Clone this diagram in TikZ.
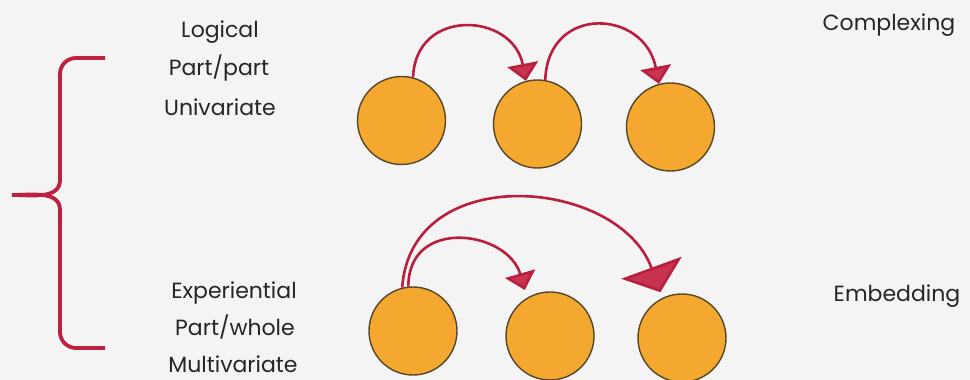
\documentclass[tikz,border=0pt]{standalone}
\usepackage{fontspec}
\setmainfont{Poppins}
\usetikzlibrary{arrows.meta}

\definecolor{circfill}{RGB}{245,168,48}
\definecolor{circedge}{RGB}{85,72,40}
\definecolor{linkred}{RGB}{186,30,62}
\definecolor{headred}{RGB}{200,52,80}
\definecolor{bracered}{RGB}{190,32,64}
\definecolor{paper}{RGB}{244,244,244}

\begin{document}
\begin{tikzpicture}[x=1pt, y=1pt,
    unit/.style={circle, draw=circedge, fill=circfill, line width=1.4pt, minimum size=88pt, inner sep=0pt},
    lbl/.style={anchor=base, inner sep=0pt, font=\fontsize{22}{26}\selectfont, text=black!85},
    link/.style={draw=linkred, line width=2.6pt, -{Triangle[length=17pt, width=31pt, fill=headred]}},
    bigtip/.style={-{Triangle[length=26pt, width=64pt, fill=headred]}}
]
\fill[paper] (0,0) rectangle (970,380);
\useasboundingbox (0,0) rectangle (970,380);

% labels
\node[lbl] (logical) at (220,342) {Logical};
\node[lbl] (ppart) at (219,304) {Part/part};
\node[lbl] (univ) at (220,264) {Univariate};
\node[lbl] (exper) at (234,81) {Experiential};
\node[lbl] (pwhole) at (235,44) {Part/whole};
\node[lbl] (multi) at (233,7) {Multivariate};
\node[lbl] (cplx) at (889,349) {Complexing};
\node[lbl] (embd) at (897,78) {Embedding};

% brace
\draw[bracered, line width=3.8pt] (105,322) -- (76,322) to[out=180,in=90] (60,306)
    -- (60,200) to[out=-90,in=0] (12,185) to[out=0,in=90] (60,170)
    -- (60,48) to[out=-90,in=180] (76,32) -- (105,32);

% complexing row
\node[unit] (c1) at (401.5,259.5) {};
\node[unit] (c2) at (537.5,256) {};
\node[unit] (c3) at (670.5,253) {};

\draw[link] (c1.75) .. controls +(88:70) and +(101:70) .. (c2.105);
\draw[link] (c2.80) .. controls +(88:76) and +(101:76) .. (c3.105);

% embedding row
\node[unit] (d1) at (413,49) {};
\node[unit] (d2) at (550,44) {};
\node[unit] (d3) at (682,42) {};

\draw[link, shorten >=8pt] (d1.96) .. controls +(90:70) and +(106:70) .. (d2.121);
\draw[link, bigtip, shorten >=6pt] (d1.104) .. controls +(86:128) and +(110:128) .. (d3.116);
\end{tikzpicture}
\end{document}
